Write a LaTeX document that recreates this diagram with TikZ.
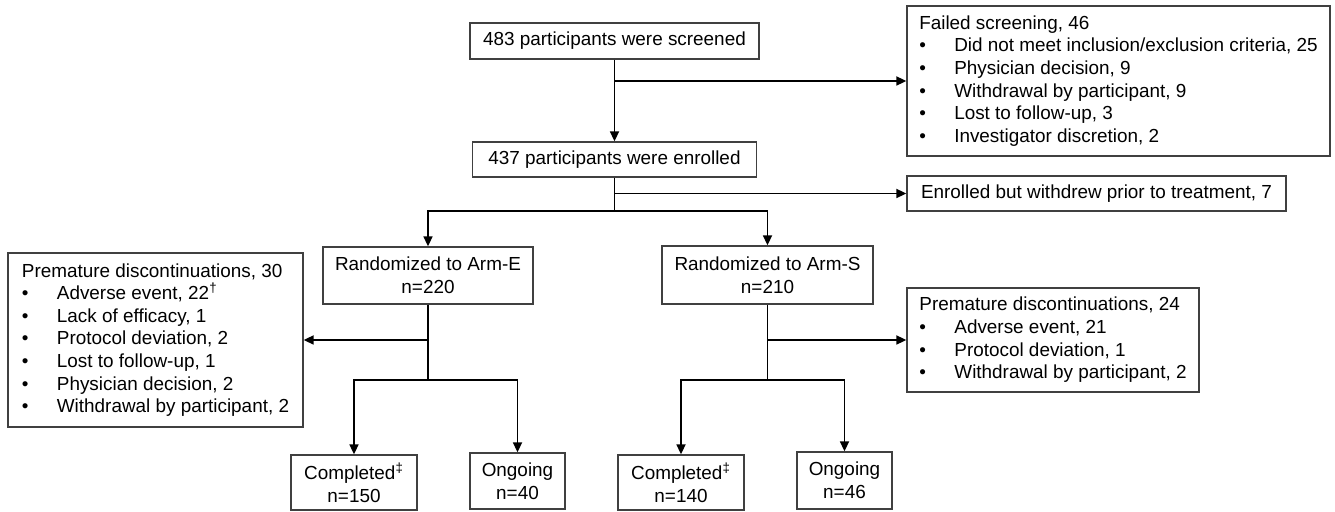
\documentclass[tikz,border=0pt]{standalone}
\usepackage{fontspec}
\setmainfont{Liberation Sans}
\usetikzlibrary{arrows.meta}

\newcommand{\bitem}[1]{\makebox[17.5pt][l]{•}#1}

\begin{document}
\begin{tikzpicture}[x=0.5pt, y=-0.5pt, font=\fontsize{9.45}{11.3}\selectfont]
    \tikzstyle{box}=[draw=black!75, line width=0.65pt, inner sep=0pt, align=center]
    \tikzstyle{list box}=[box, align=left]
    \tikzstyle{line}=[draw=black, line width=0.85pt]
    \tikzstyle{arrow}=[line, -{Triangle[length=5pt, width=4.5pt]}]

    \useasboundingbox (0,0) rectangle (1335,512);

    % main column
    \node[box, minimum width=144.5pt, minimum height=18pt] (screened) at (614.5,41) {483 participants were screened};
    \node[box, minimum width=142pt, minimum height=17.5pt] (enrolled) at (614.5,159.5) {437 participants were enrolled};
    \node[box, minimum width=105pt, minimum height=28.5pt] (armE) at (428,275.5) {Randomized to Arm-E\\n=220};
    \node[box, minimum width=105.5pt, minimum height=29pt] (armS) at (767.5,275) {Randomized to Arm-S\\n=210};

    \node[box, minimum width=63pt, minimum height=27.5pt] (compE) at (354,482.5) {Completed\textsuperscript{‡}\\n=150};
    \node[box, minimum width=47.5pt, minimum height=28pt] (ongE) at (517.5,481) {Ongoing\\n=40};
    \node[box, minimum width=63pt, minimum height=27.5pt] (compS) at (681,482.5) {Completed\textsuperscript{‡}\\n=140};
    \node[box, minimum width=47.5pt, minimum height=28.5pt] (ongS) at (844.5,480.5) {Ongoing\\n=46};

    % exclusions
    \node[list box, minimum width=211.5pt, minimum height=75pt] (failed) at (1118.5,81) {Failed screening, 46\\
        \bitem{Did not meet inclusion/exclusion criteria, 25}\\
        \bitem{Physician decision, 9}\\
        \bitem{Withdrawal by participant, 9}\\
        \bitem{Lost to follow-up, 3}\\
        \bitem{Investigator discretion, 2}};
    \node[box, minimum width=189.5pt, minimum height=17.5pt] (withdrew) at (1096.5,193.5) {Enrolled but withdrew prior to treatment, 7};
    \node[list box, minimum width=147.5pt, minimum height=87pt] (discE) at (155.5,340) {Premature discontinuations, 30\\
        \bitem{Adverse event, 22\textsuperscript{†}}\\
        \bitem{Lack of efficacy, 1}\\
        \bitem{Protocol deviation, 2}\\
        \bitem{Lost to follow-up, 1}\\
        \bitem{Physician decision, 2}\\
        \bitem{Withdrawal by participant, 2}};
    \node[list box, minimum width=146pt, minimum height=52pt] (discS) at (1053,340) {Premature discontinuations, 24\\
        \bitem{Adverse event, 21}\\
        \bitem{Protocol deviation, 1}\\
        \bitem{Withdrawal by participant, 2}};

    \coordinate (split) at (614.5,211);
    \coordinate (splitE) at (428,380);
    \coordinate (splitS) at (767.5,380);

    \draw[arrow] (screened) -- (enrolled);
    \draw[arrow] (screened.south |- failed.west) -- (failed);
    \draw[line] (enrolled) -- (split);
    \draw[arrow] (enrolled.south |- withdrew.west) -- (withdrew);
    \draw[arrow] (split) -| (armE);
    \draw[arrow] (split) -| (armS);

    \draw[line] (armE) -- (splitE);
    \draw[arrow] (armE.south |- discE.east) -- (discE);
    \draw[arrow] (splitE) -| (compE);
    \draw[arrow] (splitE) -| (ongE);

    \draw[line] (armS) -- (splitS);
    \draw[arrow] (armS.south |- discS.west) -- (discS);
    \draw[arrow] (splitS) -| (compS);
    \draw[arrow] (splitS) -| (ongS);
\end{tikzpicture}
\end{document}
